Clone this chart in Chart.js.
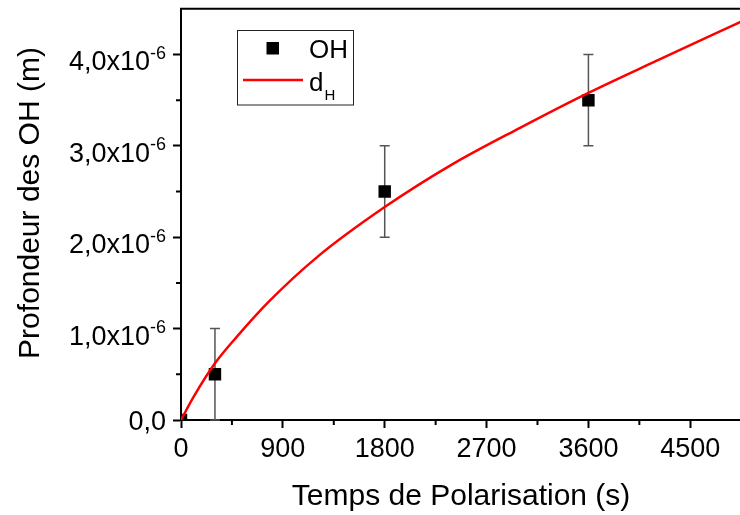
<!DOCTYPE html>
<html>
<head>
<meta charset="utf-8">
<script src="https://cdn.jsdelivr.net/npm/chart.js@4/dist/chart.umd.min.js"></script>
<style>
  html, body { margin: 0; padding: 0; overflow: hidden; background: #fff; }
  #wrap { position: relative; width: 750px; height: 515px; }
</style>
</head>
<body>
<div id="wrap"><canvas id="c"></canvas></div>
<script>
// Measured OH penetration depth (m) against polarisation time (s)
const ohTime  = [0, 300, 1800, 3600];
const ohDepth = [0, 0.5e-6, 2.5e-6, 3.5e-6];
const ohError = [0, 0.5e-6, 0.5e-6, 0.5e-6];

// d_H diffusion curve
const dhTime  = [0, 110, 300, 500, 780, 1200, 1800, 2400, 3000, 3600, 4200, 4950];
const dhDepth = [0, 0.25e-6, 0.62e-6, 0.92e-6, 1.30e-6, 1.78e-6, 2.33e-6, 2.80e-6, 3.20e-6, 3.58e-6, 3.93e-6, 4.36e-6];

// Axis ticks
const xTickValues = [0, 900, 1800, 2700, 3600, 4500];
const xTickLabels = ['0', '900', '1800', '2700', '3600', '4500'];
const xMinorValues = [450, 1350, 2250, 3150, 4050];
const yTickValues = [0, 1e-6, 2e-6, 3e-6, 4e-6];
const yTickMantissas = ['0,0', '1,0x10', '2,0x10', '3,0x10', '4,0x10'];
const yTickExponents = ['', '-6', '-6', '-6', '-6'];
const yMinorValues = [0.5e-6, 1.5e-6, 2.5e-6, 3.5e-6];

const xTitle = 'Temps de Polarisation (s)';
const yTitle = 'Profondeur des OH (m)';
const legendOH = 'OH';
const legendDH = ['d', 'H'];

const FONT = '"Liberation Sans", Arial, Helvetica, sans-serif';

const decorations = {
  id: 'decorations',
  beforeDatasetsDraw(chart) {
    // error bars under the markers
    const { ctx, scales: { x, y } } = chart;
    ctx.save();
    ctx.strokeStyle = '#555';
    ctx.lineWidth = 1.5;
    ohTime.forEach((t, i) => {
      if (!ohError[i]) return;
      const px = x.getPixelForValue(t);
      const top = y.getPixelForValue(ohDepth[i] + ohError[i]);
      const bot = y.getPixelForValue(ohDepth[i] - ohError[i]);
      ctx.beginPath();
      ctx.moveTo(px, top); ctx.lineTo(px, bot);
      ctx.moveTo(px - 5, top); ctx.lineTo(px + 5, top);
      ctx.moveTo(px - 5, bot); ctx.lineTo(px + 5, bot);
      ctx.stroke();
    });
    ctx.restore();
  },
  afterDraw(chart) {
    const { ctx, chartArea: a, scales: { x, y } } = chart;
    ctx.save();
    ctx.fillStyle = '#000';
    ctx.strokeStyle = '#000';

    // top frame line
    ctx.lineWidth = 2;
    ctx.beginPath();
    ctx.moveTo(a.left - 1, a.top); ctx.lineTo(a.right, a.top);
    ctx.stroke();

    // minor ticks
    ctx.beginPath();
    xMinorValues.forEach(v => {
      const px = x.getPixelForValue(v);
      ctx.moveTo(px, a.bottom); ctx.lineTo(px, a.bottom + 5);
    });
    yMinorValues.forEach(v => {
      const py = y.getPixelForValue(v);
      ctx.moveTo(a.left, py); ctx.lineTo(a.left - 5, py);
    });
    ctx.stroke();

    // x tick labels
    ctx.font = '27px ' + FONT;
    ctx.textAlign = 'center';
    ctx.textBaseline = 'alphabetic';
    xTickValues.forEach((v, i) => {
      ctx.fillText(xTickLabels[i], x.getPixelForValue(v), a.bottom + 37);
    });

    // y tick labels with superscript exponent
    const labelRight = a.left - 15;
    yTickValues.forEach((v, i) => {
      const py = y.getPixelForValue(v);
      let right = labelRight;
      if (yTickExponents[i]) {
        ctx.font = '18px ' + FONT;
        ctx.textAlign = 'right';
        ctx.fillText(yTickExponents[i], right, py + 4.5);
        right -= ctx.measureText(yTickExponents[i]).width;
        ctx.font = '27px ' + FONT;
        ctx.fillText(yTickMantissas[i], right, py + 16);
      } else {
        ctx.font = '27px ' + FONT;
        ctx.textAlign = 'right';
        ctx.fillText(yTickMantissas[i], right, py + 10);
      }
    });

    // axis titles
    ctx.font = '30px ' + FONT;
    ctx.textAlign = 'center';
    ctx.fillText(xTitle, (a.left + a.right) / 2, 505);
    ctx.save();
    ctx.translate(39, 203);
    ctx.rotate(-Math.PI / 2);
    ctx.fillText(yTitle, 0, 0);
    ctx.restore();

    // legend
    ctx.lineWidth = 1;
    ctx.strokeStyle = '#222';
    ctx.strokeRect(237.5, 30.5, 116, 74.5);
    ctx.fillRect(266.5, 42, 12.5, 12.5);
    ctx.font = '26px ' + FONT;
    ctx.textAlign = 'left';
    ctx.fillText(legendOH, 309, 58);
    ctx.strokeStyle = '#ff0000';
    ctx.lineWidth = 2.5;
    ctx.beginPath();
    ctx.moveTo(243, 80); ctx.lineTo(303, 80);
    ctx.stroke();
    ctx.fillText(legendDH[0], 309, 91);
    const dw = ctx.measureText(legendDH[0]).width;
    ctx.font = '15px ' + FONT;
    ctx.fillText(legendDH[1], 309 + dw + 1, 100);
    ctx.restore();
  }
};

new Chart(document.getElementById('c'), {
  type: 'line',
  data: {
    datasets: [
      {
        label: 'd_H',
        data: dhTime.map((t, i) => ({ x: t, y: dhDepth[i] })),
        borderColor: '#ff0000',
        borderWidth: 2.5,
        pointRadius: 0,
        cubicInterpolationMode: 'monotone',
        fill: false,
        order: 0
      },
      {
        label: 'OH',
        data: ohTime.map((t, i) => ({ x: t, y: ohDepth[i] })),
        showLine: false,
        pointStyle: 'rect',
        pointRadius: 8.8,
        pointBackgroundColor: '#000',
        pointBorderColor: '#000',
        pointBorderWidth: 0,
        clip: 0,
        order: 1
      }
    ]
  },
  options: {
    responsive: true,
    maintainAspectRatio: false,
    animation: false,
    layout: { padding: { left: 0, top: 5, right: 2.5, bottom: 0 } },
    plugins: { legend: { display: false }, tooltip: { enabled: false } },
    scales: {
      x: {
        type: 'linear',
        min: 0,
        max: 4950,
        afterBuildTicks: s => { s.ticks = xTickValues.map(v => ({ value: v })); },
        afterFit: s => { s.height = 95; },
        ticks: { display: false },
        grid: { display: true, drawOnChartArea: false, drawTicks: true, tickLength: 8, tickWidth: 2, tickColor: '#000' },
        border: { display: true, color: '#000', width: 2 }
      },
      y: {
        type: 'linear',
        min: 0,
        max: 4.5e-6,
        afterBuildTicks: s => { s.ticks = yTickValues.map(v => ({ value: v })); },
        afterFit: s => { s.width = 181; },
        ticks: { display: false },
        grid: { display: true, drawOnChartArea: false, drawTicks: true, tickLength: 8, tickWidth: 2, tickColor: '#000' },
        border: { display: true, color: '#000', width: 2 }
      }
    }
  },
  plugins: [decorations]
});
</script>
</body>
</html>
